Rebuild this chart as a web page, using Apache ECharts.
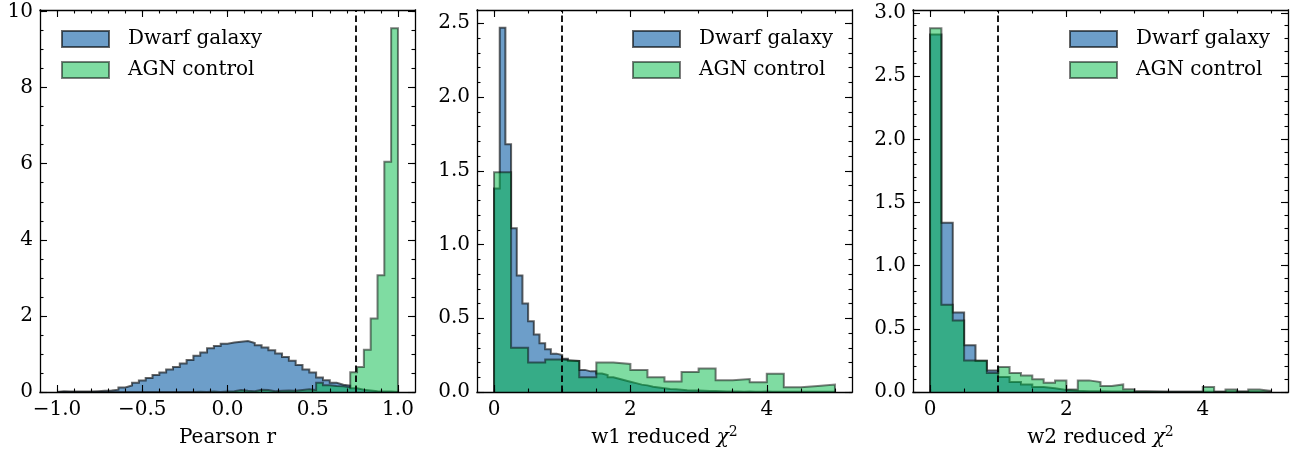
<!DOCTYPE html>
<html><head><meta charset="utf-8">
<script src="https://cdn.jsdelivr.net/npm/echarts@6/dist/echarts.min.js"></script>
<style>html,body{margin:0;padding:0;background:#fff}#c{width:1291px;height:453px}</style>
</head><body><div id="c"></div>
<script>
// ---------------- DATA ----------------
const seriesNames = ['Dwarf galaxy', 'AGN control'];
const xNames = ['Pearson r', 'w1 reduced {c|χ}{s|2}', 'w2 reduced {c|χ}{s|2}'];

// Panel 1: Pearson r, 50 bins from -1 to 1
const pearsonBinStart = -1, pearsonBinWidth = 0.04;
const pearsonDwarf = [0.02,0.01,0.01,0.01,0.01,0.02,0.03,0.04,0.06,0.12,
  0.17,0.24,0.30,0.37,0.45,0.51,0.59,0.66,0.75,0.84,
  0.95,1.04,1.15,1.21,1.27,1.30,1.32,1.34,1.29,1.23,
  1.17,1.10,1.01,0.92,0.82,0.71,0.59,0.51,0.38,0.31,
  0.24,0.19,0.17,0.10,0.06,0.04,0.02,0.01,0.01,0.0];
const pearsonAGN = [0,0,0,0,0,0,0,0,0,0,
  0,0,0,0,0,0,0,0,0,0,
  0.005,0,0.01,0,0.01,0.02,0.05,0.03,0.02,0.06,
  0.05,0.02,0.03,0.04,0.03,0.05,0.07,0.05,0.24,0.18,
  0.16,0.15,0.12,0.52,0.66,1.11,1.93,3.07,6.05,9.56];

// Panel 2: w1 reduced chi2
const w1DwarfBinStart = 0, w1DwarfBinWidth = 1/12;
const w1Dwarf = [1.38,2.47,1.68,1.11,0.79,0.60,0.48,0.39,0.33,0.29,
  0.26,0.25,0.225,0.21,0.21,0.15,0.14,0.14,0.125,0.115,
  0.10,0.09,0.08,0.07,0.06,0.05,0.045,0.035,0.03,0.025,
  0.02,0.018,0.015,0.012,0.01,0.01,0.008,0.006,0.006,0.005,
  0.004,0.003,0.004,0.002,0.003,0.002,0.002,0.003,0.002,0.001,
  0.002,0.002,0.001,0.002,0.001,0.001,0.002,0.001,0.001,0.001];
const w1AGNBinStart = 0, w1AGNBinWidth = 0.25;
const w1AGN = [1.49,0.30,0.20,0.22,0.21,0.10,0.20,0.19,0.15,0.10,
  0.072,0.135,0.16,0.08,0.088,0.066,0.124,0.032,0.041,0.05];

// Panel 3: w2 reduced chi2, 30 bins from 0 to 5
const w2BinStart = 0, w2BinWidth = 1/6;
const w2Dwarf = [2.83,1.34,0.63,0.37,0.245,0.17,0.118,0.079,0.06,0.04,
  0.03,0.016,0.01,0.006,0.005,0.004,0.003,0.002,0.002,0.001,
  0.001,0.001,0.001,0.001,0.002,0.001,0.002,0.001,0.002,0.001];
const w2AGN = [2.88,0.69,0.566,0.25,0.25,0.15,0.197,0.15,0.13,0.10,
  0.074,0.092,0.019,0.092,0.079,0.047,0.06,0.021,0.005,0.003,
  0.002,0.002,0.001,0.003,0.04,0.002,0.019,0.003,0.019,0.008];

// Cut lines
const cutValues = [0.75, 1.0, 1.0];

// Axis ranges & ticks
const xRanges = [[-1.1, 1.1], [-0.25, 5.25], [-0.25, 5.25]];
const yRanges = [[0, 10.04], [0, 2.59], [0, 3.024]];
const xMajor = [[-1.0,-0.5,0.0,0.5,1.0],[0,2,4],[0,2,4]];
const xMinor = [
  [-1.0,-0.9,-0.8,-0.7,-0.6,-0.5,-0.4,-0.3,-0.2,-0.1,0,0.1,0.2,0.3,0.4,0.5,0.6,0.7,0.8,0.9,1.0],
  [0,0.5,1,1.5,2,2.5,3,3.5,4,4.5,5],
  [0,0.5,1,1.5,2,2.5,3,3.5,4,4.5,5]];
const yMajor = [[0,2,4,6,8,10],[0,0.5,1.0,1.5,2.0,2.5],[0,0.5,1.0,1.5,2.0,2.5,3.0]];
const yMinor = [
  [0,0.5,1,1.5,2,2.5,3,3.5,4,4.5,5,5.5,6,6.5,7,7.5,8,8.5,9,9.5,10],
  [0,0.1,0.2,0.3,0.4,0.5,0.6,0.7,0.8,0.9,1.0,1.1,1.2,1.3,1.4,1.5,1.6,1.7,1.8,1.9,2.0,2.1,2.2,2.3,2.4,2.5],
  [0,0.1,0.2,0.3,0.4,0.5,0.6,0.7,0.8,0.9,1.0,1.1,1.2,1.3,1.4,1.5,1.6,1.7,1.8,1.9,2.0,2.1,2.2,2.3,2.4,2.5,2.6,2.7,2.8,2.9,3.0]];

// ---------------- STYLE / LAYOUT ----------------
const FONT = 'DejaVu Serif';
const FS = 20;
const BLUE_FILL = 'rgba(12,93,165,0.6)';
const GREEN_FILL = 'rgba(0,185,69,0.5)';
const BLUE_EDGE = 'rgba(0,0,0,0.6)';
const GREEN_EDGE = 'rgba(0,0,0,0.5)';
const grids = [
  {left: 40, top: 10, width: 375, height: 382, outerBoundsMode: 'none', containLabel: false},
  {left: 477, top: 10, width: 375, height: 382, outerBoundsMode: 'none', containLabel: false},
  {left: 913, top: 10, width: 375, height: 382, outerBoundsMode: 'none', containLabel: false}
];
const legendPos = [{left: 61, top: 29}, {left: 632, top: 29}, {left: 1069, top: 29}];

function stepData(start, width, vals) {
  const pts = [[start, 0]];
  vals.forEach((v, i) => {
    const a = start + i * width, b = start + (i + 1) * width;
    pts.push([a, v], [b, v]);
  });
  pts.push([start + vals.length * width, 0]);
  return pts;
}
const fmtMinus = d => v => (v < 0 ? '\u2212' : '') + Math.abs(v).toFixed(d);
const xFmt = [fmtMinus(1), fmtMinus(0), fmtMinus(0)];
const yFmt = [fmtMinus(0), fmtMinus(1), fmtMinus(1)];

const tickStyle = {color: '#000', width: 1.1};
const frameLine = {show: true, onZero: false, lineStyle: {color: '#000', width: 1.3, cap: 'square'}};
const noLine = {show: false, onZero: false};
function xAxesFor(gi) {
  const [min, max] = xRanges[gi];
  const base = {type: 'value', gridIndex: gi, min, max, z: 5, splitLine: {show: false}};
  return [
    Object.assign({}, base, {position: 'bottom', axisLine: frameLine,
      axisTick: {inside: true, length: 7, lineStyle: tickStyle, customValues: xMajor[gi]},
      axisLabel: {customValues: xMajor[gi], formatter: xFmt[gi], margin: 8, fontFamily: FONT, fontSize: FS, color: '#000'},
      name: xNames[gi], nameLocation: 'middle', nameGap: 33,
      nameTextStyle: {fontFamily: FONT, fontSize: FS, color: '#000', lineHeight: 26, rich: {
        c: {fontFamily: FONT, fontSize: FS, fontStyle: 'italic', color: '#000', lineHeight: 26},
        s: {fontFamily: FONT, fontSize: 14, color: '#000', verticalAlign: 'top', lineHeight: 18}}}}),
    Object.assign({}, base, {position: 'bottom', axisLine: noLine,
      axisTick: {inside: true, length: 3.5, lineStyle: tickStyle, customValues: xMinor[gi]},
      axisLabel: {show: false, customValues: xMinor[gi]}}),
    Object.assign({}, base, {position: 'top', axisLine: frameLine,
      axisTick: {inside: true, length: 7, lineStyle: tickStyle, customValues: xMajor[gi]},
      axisLabel: {show: false, customValues: xMajor[gi]}}),
    Object.assign({}, base, {position: 'top', axisLine: noLine,
      axisTick: {inside: true, length: 3.5, lineStyle: tickStyle, customValues: xMinor[gi]},
      axisLabel: {show: false, customValues: xMinor[gi]}})
  ];
}
function yAxesFor(gi) {
  const [min, max] = yRanges[gi];
  const base = {type: 'value', gridIndex: gi, min, max, z: 5, splitLine: {show: false}};
  return [
    Object.assign({}, base, {position: 'left', axisLine: frameLine,
      axisTick: {inside: true, length: 7, lineStyle: tickStyle, customValues: yMajor[gi]},
      axisLabel: {customValues: yMajor[gi], formatter: yFmt[gi], margin: 7, fontFamily: FONT, fontSize: FS, color: '#000'}}),
    Object.assign({}, base, {position: 'left', axisLine: noLine,
      axisTick: {inside: true, length: 3.5, lineStyle: tickStyle, customValues: yMinor[gi]},
      axisLabel: {show: false, customValues: yMinor[gi]}}),
    Object.assign({}, base, {position: 'right', axisLine: frameLine,
      axisTick: {inside: true, length: 7, lineStyle: tickStyle, customValues: yMajor[gi]},
      axisLabel: {show: false, customValues: yMajor[gi]}}),
    Object.assign({}, base, {position: 'right', axisLine: noLine,
      axisTick: {inside: true, length: 3.5, lineStyle: tickStyle, customValues: yMinor[gi]},
      axisLabel: {show: false, customValues: yMinor[gi]}})
  ];
}

const panelData = [
  [stepData(pearsonBinStart, pearsonBinWidth, pearsonDwarf), stepData(pearsonBinStart, pearsonBinWidth, pearsonAGN)],
  [stepData(w1DwarfBinStart, w1DwarfBinWidth, w1Dwarf), stepData(w1AGNBinStart, w1AGNBinWidth, w1AGN)],
  [stepData(w2BinStart, w2BinWidth, w2Dwarf), stepData(w2BinStart, w2BinWidth, w2AGN)]
];

const xAxis = [], yAxis = [], series = [], legend = [];
grids.forEach((g, gi) => {
  xAxis.push(...xAxesFor(gi));
  yAxis.push(...yAxesFor(gi));
  const xi = gi * 4, yi = gi * 4;
  series.push({
    type: 'line', name: seriesNames[0], xAxisIndex: xi, yAxisIndex: yi,
    data: panelData[gi][0], symbol: 'none', silent: true, animation: false,
    itemStyle: {color: BLUE_FILL},
    lineStyle: {color: BLUE_EDGE, width: 2, join: 'miter'},
    areaStyle: {color: BLUE_FILL, opacity: 1}, z: 2
  });
  series.push({
    type: 'line', name: seriesNames[1], xAxisIndex: xi, yAxisIndex: yi,
    data: panelData[gi][1], symbol: 'none', silent: true, animation: false,
    itemStyle: {color: GREEN_FILL},
    lineStyle: {color: GREEN_EDGE, width: 2, join: 'miter'},
    areaStyle: {color: GREEN_FILL, opacity: 1}, z: 3,
    markLine: {silent: true, symbol: ['none', 'none'], label: {show: false}, animation: false,
      lineStyle: {color: '#000', type: [6.5, 3.5], width: 1.8},
      data: [{xAxis: cutValues[gi]}]}
  });
  legend.push({
    left: legendPos[gi].left, top: legendPos[gi].top, orient: 'vertical', padding: 0,
    itemWidth: 47, itemHeight: 16, itemGap: 11, selectedMode: false,
    textStyle: {fontFamily: FONT, fontSize: FS, color: '#000', padding: [0, 0, 0, 14]},
    data: [
      {name: seriesNames[0], icon: 'rect', itemStyle: {color: BLUE_FILL, borderColor: BLUE_EDGE, borderWidth: 2}},
      {name: seriesNames[1], icon: 'rect', itemStyle: {color: GREEN_FILL, borderColor: GREEN_EDGE, borderWidth: 2}}
    ]
  });
});

const chart = echarts.init(document.getElementById('c'), null, {renderer: 'canvas'});
chart.setOption({
  backgroundColor: '#fff',
  animation: false,
  grid: grids,
  xAxis, yAxis, series, legend
});
</script>
</body></html>
